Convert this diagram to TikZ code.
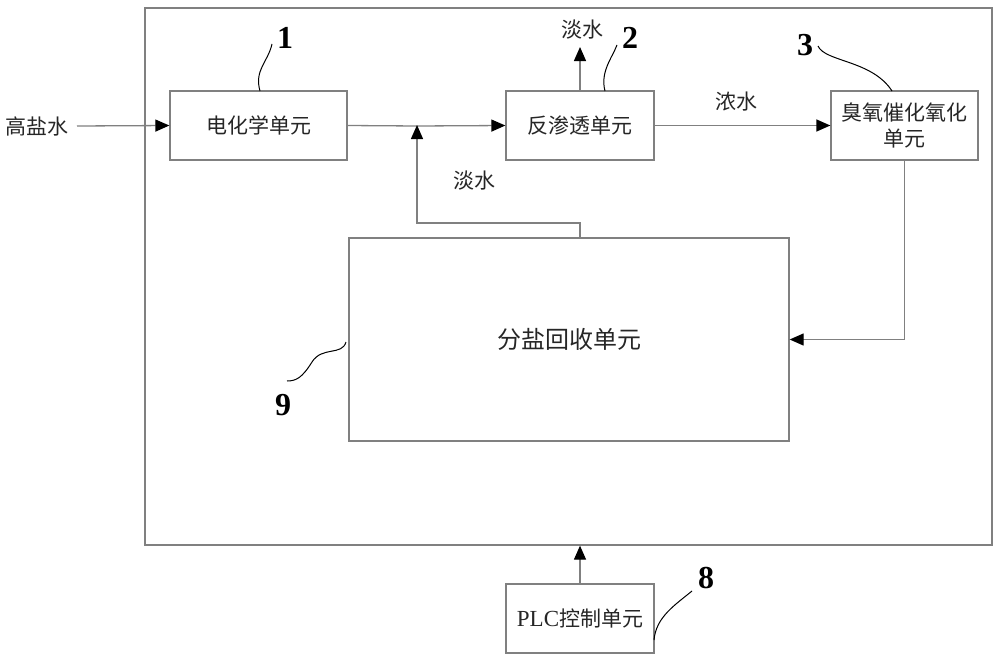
\documentclass[tikz,border=0pt]{standalone}
\usepackage{fontspec}
\setmainfont{Liberation Serif}
\newfontfamily\cjk{Noto Sans CJK SC}
\usetikzlibrary{arrows.meta}
\begin{document}
\begin{tikzpicture}[x=1pt,y=-1pt,
  line/.style={draw=black!50, line width=1.3pt},
  arr/.style={line, -{Triangle[length=14pt,width=12pt,fill=black,color=black]}},
  box/.style={line, rectangle, inner sep=0pt, font=\cjk\fontsize{21}{26}\selectfont, align=center, text=black!85},
  lbl/.style={font=\cjk\fontsize{21}{26}\selectfont, text=black!85, inner sep=1pt},
  num/.style={font=\bfseries\fontsize{32}{34}\selectfont, inner sep=0pt},
  lead/.style={draw=black, line width=1pt}]
\useasboundingbox (0,0) rectangle (1000,661);
\node[line, rectangle, minimum width=847pt, minimum height=537pt, inner sep=0pt] (frame) at (568.5,276.5) {};
\node[box, minimum width=177pt, minimum height=69pt] (ec) at (258.5,125.5) {电化学单元};
\node[box, minimum width=148pt, minimum height=69pt] (ro) at (580,125.5) {反渗透单元};
\node[box, minimum width=147pt, minimum height=69pt] (oz) at (904.5,125.5) {臭氧催化氧化\\单元};
\node[box, minimum width=440pt, minimum height=203pt, font=\cjk\fontsize{24}{28}\selectfont] (salt) at (569,339.5) {分盐回收单元};
\node[box, minimum width=148pt, minimum height=69pt, font=\fontsize{23}{26}\selectfont] (plc) at (580,618.5) {PLC{\cjk\fontsize{21}{26}\selectfont 控制单元}};
\node[lbl] (in) at (37,126) {高盐水};
\node[lbl] (fw1) at (582,30) {淡水};
\node[lbl] (fw2) at (474,181) {淡水};
\node[lbl] (cw) at (736,102) {浓水};
\coordinate (m) at (417,126);
\coordinate (inL) at (77,126);
\draw[arr] (inL) -- (ec.west);
\draw[line] (ec.east) -- (m);
\draw[arr] (m) -- (ro.west);
\draw[arr] (ro.north) -- (580,47);
\draw[arr] (ro.east) -- (oz.west);
\draw[arr] (oz.south) |- (salt.east);
\draw[arr] (580,238) -- (580,223) -| ([yshift=1pt]m);
\draw[arr] (plc.north) -- (plc.north |- frame.south);
% leaders
\node[num] (n1) at (285,38) {1};
\draw[lead] (260,91) .. controls (254,70) and (268,62) .. (272,44);
\node[num] (n2) at (630,38) {2};
\draw[lead] (605,91) .. controls (600,72) and (612,58) .. (617,45);
\node[num] (n3) at (805,45) {3};
\draw[lead] (818,46) .. controls (825,62) and (872,60) .. (892,91);
\node[num] (n9) at (283,405) {9};
\draw[lead] (346,342) .. controls (342,356) and (322,346) .. (312,362) .. controls (302,378) and (296,381) .. (287,381);
\node[num] (n8) at (706,578) {8};
\draw[lead] (654,640) .. controls (656,617) and (675,605) .. (692,591);
\end{tikzpicture}
\end{document}
